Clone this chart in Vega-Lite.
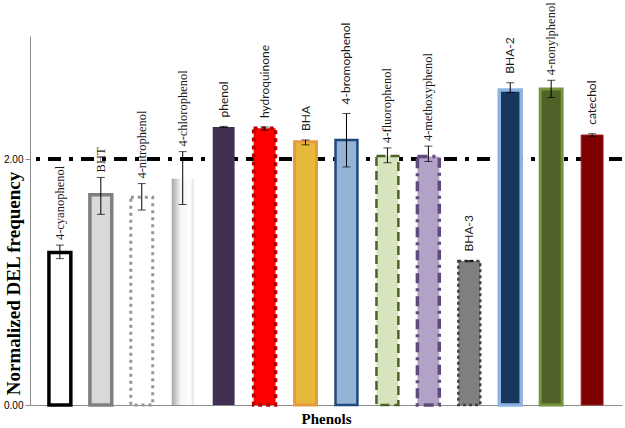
{
  "$schema": "https://vega.github.io/schema/vega-lite/v6.json",
  "width": 592,
  "height": 369,
  "autosize": "none",
  "padding": {"left": 30, "top": 36, "right": 3, "bottom": 23},
  "background": "white",
  "config": {"view": {"stroke": null}},
  "data": {
    "values": [
      {"name": "4-cyanophenol", "value": 1.24, "lo": 1.19, "hi": 1.30},
      {"name": "BHT", "value": 1.71, "lo": 1.55, "hi": 1.85},
      {"name": "4-nitrophenol", "value": 1.69, "lo": 1.585, "hi": 1.80},
      {"name": "4-chlorophenol", "value": 1.84, "lo": 1.63, "hi": 2.06},
      {"name": "phenol", "value": 2.26, "lo": 2.255, "hi": 2.265},
      {"name": "hydroquinone", "value": 2.25, "lo": 2.235, "hi": 2.26},
      {"name": "BHA", "value": 2.14, "lo": 2.115, "hi": 2.155},
      {"name": "4-bromophenol", "value": 2.155, "lo": 1.935, "hi": 2.37},
      {"name": "4-fluorophenol", "value": 2.025, "lo": 1.97, "hi": 2.09},
      {"name": "4-methoxyphenol", "value": 2.02, "lo": 1.98, "hi": 2.105},
      {"name": "BHA-3", "value": 1.17, "lo": 1.165, "hi": 1.175},
      {"name": "BHA-2", "value": 2.56, "lo": 2.54, "hi": 2.62},
      {"name": "4-nonylphenol", "value": 2.57, "lo": 2.50, "hi": 2.64},
      {"name": "catechol", "value": 2.195, "lo": 2.185, "hi": 2.205}
    ]
  },
  "layer": [
    {
      "mark": {"type": "rule", "color": "black", "strokeWidth": 3, "strokeDash": [13, 8, 4, 8]},
      "encoding": {"y": {"datum": 2, "type": "quantitative"}}
    },
    {
      "mark": {"type": "bar", "fillOpacity": 1},
      "encoding": {
        "x": {
          "field": "name", "type": "nominal", "sort": null,
          "scale": {"paddingInner": 0.465, "paddingOuter": 0.4625},
          "axis": {
            "title": "Phenols", "labels": false, "ticks": false,
            "domainColor": "#8c8c8c", "domainWidth": 1,
            "titleFont": "Liberation Serif", "titleFontSize": 15, "titleFontWeight": "bold",
            "titleColor": "black", "titlePadding": 6
          }
        },
        "y": {
          "field": "value", "type": "quantitative",
          "scale": {"domain": [0, 3], "nice": false},
          "axis": {
            "values": [0, 2], "format": ".2f", "grid": false,
            "labelFont": "Liberation Sans", "labelFontSize": 10, "labelColor": "black", "labelPadding": 2,
            "tickSize": 5, "tickColor": "#8c8c8c", "domainColor": "#8c8c8c",
            "title": "Normalized DEL frequency",
            "titleFont": "Liberation Serif", "titleFontSize": 19, "titleFontWeight": "bold", "titleColor": "black",
            "titleAngle": 270, "titleX": -17, "titleY": 247, "titleAlign": "center", "titleBaseline": "middle"
          }
        },
        "fill": {
          "field": "name", "type": "nominal", "legend": null,
          "scale": {
            "domain": ["4-cyanophenol", "BHT", "4-nitrophenol", "4-chlorophenol", "phenol", "hydroquinone", "BHA", "4-bromophenol", "4-fluorophenol", "4-methoxyphenol", "BHA-3", "BHA-2", "4-nonylphenol", "catechol"],
            "range": ["#ffffff", "#d9d9d9", "#ffffff", "#ffffff", "#403152", "#ff0000", "#e6b93a", "#95b3d7", "#d7e4bd", "#b3a2c7", "#808080", "#17375e", "#4f6228", "#7f0000"]
          }
        },
        "stroke": {
          "field": "name", "type": "nominal", "legend": null,
          "scale": {
            "domain": ["4-cyanophenol", "BHT", "4-nitrophenol", "4-chlorophenol", "phenol", "hydroquinone", "BHA", "4-bromophenol", "4-fluorophenol", "4-methoxyphenol", "BHA-3", "BHA-2", "4-nonylphenol", "catechol"],
            "range": ["#000000", "#808080", "#969696", "#ffffff", "#403152", "#b80000", "#e59b3e", "#1f497d", "#4f6228", "#604a7b", "#404040", "#8db3e2", "#77933c", "#a02020"]
          }
        },
        "strokeWidth": {
          "field": "name", "type": "nominal", "legend": null,
          "scale": {
            "type": "ordinal",
            "domain": ["4-cyanophenol", "BHT", "4-nitrophenol", "4-chlorophenol", "phenol", "hydroquinone", "BHA", "4-bromophenol", "4-fluorophenol", "4-methoxyphenol", "BHA-3", "BHA-2", "4-nonylphenol", "catechol"],
            "range": [3.5, 3.5, 3, 0, 0, 3.5, 3, 2.5, 2.5, 3.5, 2.5, 3.5, 3, 1]
          }
        },
        "strokeDash": {
          "field": "name", "type": "nominal", "legend": null,
          "scale": {
            "domain": ["4-cyanophenol", "BHT", "4-nitrophenol", "4-chlorophenol", "phenol", "hydroquinone", "BHA", "4-bromophenol", "4-fluorophenol", "4-methoxyphenol", "BHA-3", "BHA-2", "4-nonylphenol", "catechol"],
            "range": [[1, 0], [1, 0], [3, 4], [1, 0], [1, 0], [4, 4], [1, 0], [1, 0], [9, 5], [10, 5, 3, 5], [3, 3], [1, 0], [1, 0], [1, 0]]
          }
        }
      }
    },
    {
      "transform": [{"filter": "datum.name === '4-chlorophenol'"}],
      "mark": {
        "type": "bar",
        "color": {
          "gradient": "linear", "x1": 0, "y1": 0, "x2": 1, "y2": 0,
          "stops": [
            {"offset": 0, "color": "#a6a6a6"},
            {"offset": 0.4, "color": "#f4f4f4"},
            {"offset": 0.85, "color": "#ffffff"},
            {"offset": 1, "color": "#e0e0e0"}
          ]
        }
      },
      "encoding": {
        "x": {"field": "name", "type": "nominal", "sort": null},
        "y": {"field": "value", "type": "quantitative"}
      }
    },
    {
      "mark": {"type": "rule", "color": "black", "strokeWidth": 1},
      "encoding": {
        "x": {"field": "name", "type": "nominal", "sort": null},
        "y": {"field": "lo", "type": "quantitative"},
        "y2": {"field": "hi"}
      }
    },
    {
      "mark": {"type": "tick", "color": "black", "size": 8, "thickness": 1},
      "encoding": {
        "x": {"field": "name", "type": "nominal", "sort": null},
        "y": {"field": "lo", "type": "quantitative"}
      }
    },
    {
      "mark": {"type": "tick", "color": "black", "size": 8, "thickness": 1},
      "encoding": {
        "x": {"field": "name", "type": "nominal", "sort": null},
        "y": {"field": "hi", "type": "quantitative"}
      }
    },
    {
      "transform": [{"filter": {"field": "name", "oneOf": ["4-cyanophenol", "BHT", "4-nitrophenol", "4-chlorophenol", "4-fluorophenol", "4-methoxyphenol", "4-nonylphenol"]}}],
      "mark": {"type": "text", "angle": 270, "align": "left", "baseline": "middle", "dx": 5, "font": "Liberation Serif", "fontSize": 12.5, "color": "#1a1a1a"},
      "encoding": {
        "x": {"field": "name", "type": "nominal", "sort": null},
        "y": {"field": "hi", "type": "quantitative"},
        "text": {"field": "name"}
      }
    },
    {
      "transform": [{"filter": {"field": "name", "oneOf": ["phenol", "hydroquinone", "BHA", "4-bromophenol", "BHA-3", "BHA-2", "catechol"]}}],
      "mark": {"type": "text", "angle": 270, "align": "left", "baseline": "middle", "dx": 9, "font": "Lato", "fontSize": 12, "color": "#1a1a1a"},
      "encoding": {
        "x": {"field": "name", "type": "nominal", "sort": null},
        "y": {"field": "hi", "type": "quantitative"},
        "text": {"field": "name"}
      }
    }
  ]
}
